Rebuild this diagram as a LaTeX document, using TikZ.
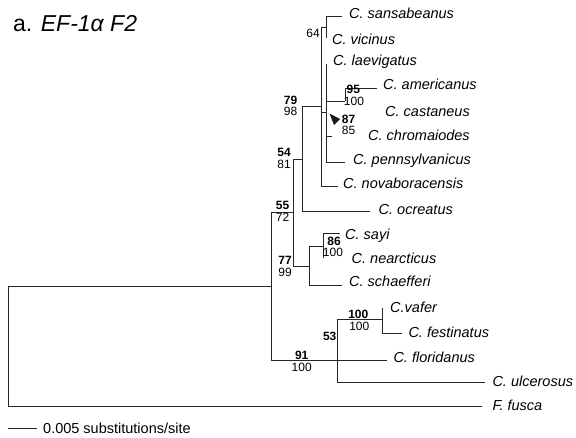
\documentclass[tikz,border=0pt]{standalone}
\usepackage{fontspec}
\setmainfont{Liberation Sans}
\begin{document}
\begin{tikzpicture}[x=1pt,y=-1pt,
  br/.style={line width=0.9pt, draw=black!85},
  taxon/.style={anchor=base west, inner sep=0pt, font=\fontsize{14.5}{15}\selectfont\itshape},
  bsup/.style={anchor=base, inner sep=0pt, font=\fontsize{12}{12}\selectfont\bfseries},
  nsup/.style={anchor=base, inner sep=0pt, font=\fontsize{12}{12}\selectfont},
]
\useasboundingbox (0,0) rectangle (576,438);
% internal nodes
\coordinate (R) at (8,346.5);
\coordinate (N1) at (271.5,286);
\coordinate (N55) at (293.3,212);
\coordinate (N54) at (302.7,159);
\coordinate (N79) at (321.7,106.7);
\coordinate (N64) at (326,27);
\coordinate (N87) at (326,112.5);
\coordinate (N95) at (345,101);
\coordinate (N77) at (309.3,266.5);
\coordinate (N86) at (323.3,246.5);
\coordinate (N91) at (337.3,360.5);
\coordinate (N100) at (382.7,319.3);
% leaf ends
\coordinate (eSan) at (341.7,16.7);
\coordinate (eVic) at (326,38);
\coordinate (eLae) at (326,64);
\coordinate (eAme) at (376.7,88);
\coordinate (eChr) at (332,136.7);
\coordinate (ePen) at (345,162.3);
\coordinate (eNov) at (338.3,186.7);
\coordinate (eOcr) at (370,211.7);
\coordinate (eSay) at (340,233.3);
\coordinate (eNea) at (323.3,258.3);
\coordinate (eSch) at (341.7,285);
\coordinate (eVaf) at (382.7,308.3);
\coordinate (eFes) at (401.7,333.3);
\coordinate (eFlo) at (386.7,360.5);
\coordinate (eUlc) at (485,382.7);
\coordinate (eFus) at (481.7,406.7);
% branches
\draw[br] (R) |- (N1);
\draw[br] (R) |- (eFus);
\draw[br] (N1) |- (N55);
\draw[br] (N1) |- (N91);
\draw[br] (N55) |- (N54);
\draw[br] (N55) |- (N77);
\draw[br] (N54) |- (N79);
\draw[br] (N54) |- (eOcr);
\draw[br] (N79) |- (N64);
\draw[br] (N79) |- (N87);
\draw[br] (N79) |- (eNov);
\draw[br] (N64) |- (eSan);
\draw[br] (N64) -- (eVic);
\draw[br] (N87) -- (eLae);
\draw[br] (N87) |- (N95);
\draw[br] (N87) |- (eChr);
\draw[br] (N87) |- (ePen);
\draw[br] (N95) |- (eAme);
\draw[br] (N77) |- (N86);
\draw[br] (N77) |- (eSch);
\draw[br] (N86) |- (eSay);
\draw[br] (N86) -- (eNea);
\draw[br] (N91) |- (N100);
\draw[br] (N91) |- (eFlo);
\draw[br] (N91) |- (eUlc);
\draw[br] (N100) -- (eVaf);
\draw[br] (N100) |- (eFes);
% taxa
\node[taxon] (tSan) at (349,19) {C. sansabeanus};
\node[taxon] (tVic) at (332,44.3) {C. vicinus};
\node[taxon] (tLae) at (333,66) {C. laevigatus};
\node[taxon] (tAme) at (383,90) {C. americanus};
\node[taxon] (tCas) at (385,116.5) {C. castaneus};
\node[taxon] (tChr) at (368,141) {C. chromaiodes};
\node[taxon] (tPen) at (353,165) {C. pennsylvanicus};
\node[taxon] (tNov) at (343,188.5) {C. novaboracensis};
\node[taxon] (tOcr) at (378.5,215) {C. ocreatus};
\node[taxon] (tSay) at (345,240) {C. sayi};
\node[taxon] (tNea) at (351.5,264) {C. nearcticus};
\node[taxon] (tSch) at (349,286.7) {C. schaefferi};
\node[taxon] (tVaf) at (390,312.7) {C.vafer};
\node[taxon] (tFes) at (408.3,337.3) {C. festinatus};
\node[taxon] (tFlo) at (393.3,362.7) {C. floridanus};
\node[taxon] (tUlc) at (492.3,386.7) {C. ulcerosus};
\node[taxon] (tFus) at (492.3,410.7) {F. fusca};
% support values
\node[nsup] (s64) at (313,38) {64};
\node[bsup] (s79) at (290.5,104.5) {79};
\node[nsup] (s98) at (290.5,116) {98};
\node[bsup] (s95) at (353.3,94) {95};
\node[nsup] (s95b) at (354,106) {100};
\node[bsup] (s87) at (348.5,123.5) {87};
\node[nsup] (s85) at (348.5,135) {85};
\node[bsup] (s54) at (284,157) {54};
\node[nsup] (s81) at (284,168.5) {81};
\node[bsup] (s55) at (282.5,210) {55};
\node[nsup] (s72) at (282.5,221.7) {72};
\node[bsup] (s86) at (334,246) {86};
\node[nsup] (s86b) at (333,256.7) {100};
\node[bsup] (s77) at (285,265) {77};
\node[nsup] (s99) at (285,276.7) {99};
\node[bsup] (s100) at (358.3,318.3) {100};
\node[nsup] (s100b) at (359.3,330.7) {100};
\node[bsup] (s53) at (329.7,340.7) {53};
\node[bsup] (s91) at (301.7,359.5) {91};
\node[nsup] (s91b) at (301.7,371.7) {100};
% arrow head
\fill[black!90] (329.5,113.5) -- (340,119) -- (334,125) -- cycle;
% title
\node[anchor=base west, inner sep=0pt, font=\fontsize{23}{23}\selectfont] (title) at (13,31.7) {a. \textit{EF-1α F2}};
% scale bar
\coordinate (sb1) at (8,428);
\coordinate (sb2) at (36.7,428);
\draw[br] (sb1) -- (sb2);
\node[anchor=base west, inner sep=0pt, font=\fontsize{14.5}{15}\selectfont] (sbt) at (43,433) {0.005 substitutions/site};
\end{tikzpicture}
\end{document}
